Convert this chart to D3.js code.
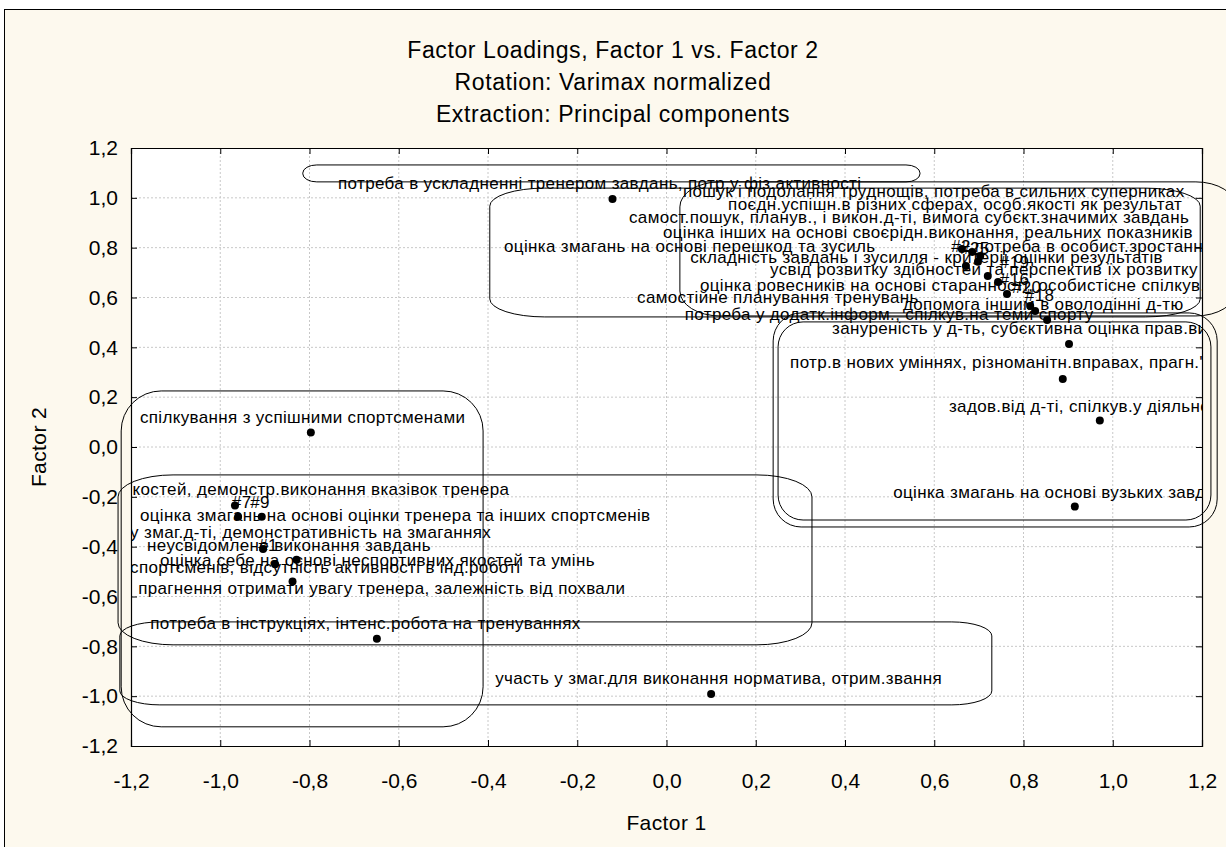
<!DOCTYPE html>
<html>
<head>
<meta charset="utf-8">
<script src="https://cdnjs.cloudflare.com/ajax/libs/d3/7.8.5/d3.min.js"></script>
<style>
  body { margin: 0; background: #fff; }
  text { font-family: Arial, "Liberation Sans", sans-serif; fill: #000; }
</style>
</head>
<body>
<div id="chart"></div>
<script>
// factor loadings (Factor 1, Factor 2) of every variable
const factor1 = [
  -0.121, -0.797, -0.649, 0.100,
  0.902, 0.888, 0.971, 0.915,
  0.662, 0.685, 0.703, 0.671, 0.698, 0.720, 0.743, 0.763, 0.815, 0.826, 0.853,
  -0.967, -0.960, -0.907, -0.904, -0.877, -0.829, -0.838
];
const factor2 = [
  0.995, 0.058, -0.770, -0.991,
  0.413, 0.273, 0.106, -0.239,
  0.795, 0.783, 0.767, 0.726, 0.743, 0.686, 0.662, 0.614, 0.566, 0.546, 0.510,
  -0.235, -0.280, -0.280, -0.409, -0.471, -0.453, -0.540
];

// point labels as placed on the plot (left start, in factor units)
const labelText = [
  "потреба в ускладненні тренером завдань, потр.у фіз.активності",
  "спілкування з успішними спортсменами",
  "участь у змаг.для виконання норматива, отрим.звання",
  "потреба в інструкціях, інтенс.робота на тренуваннях",
  "пошук і подолання труднощів, потреба в сильних суперниках",
  "поєдн.успішн.в різних сферах, особ.якості як результат",
  "самост.пошук, планув., і викон.д-ті, вимога субєкт.значимих завдань",
  "оцінка інших на основі своєрідн.виконання, реальних показників",
  "оцінка змагань на основі перешкод та зусиль",
  "потреба в особист.зростанні",
  "складність завдань і зусилля - критерії оцінки результатів",
  "усвід розвитку здібностей та перспектив їх розвитку",
  "оцінка ровесників на основі старанності, особистісне спілкув.:",
  "самостійне планування тренувань",
  "допомога іншим в оволодінні д-тю",
  "потреба у додатк.інформ., спілкув.на теми спорту",
  "занурeність у д-ть, субєктивна оцінка прав.виконання",
  "потр.в нових уміннях, різноманітн.вправах, прагн.\"бути першим\"",
  "задов.від д-ті, спілкув.у діяльності",
  "оцінка змагань на основі вузьких завдань",
  "якостей, демонстр.виконання вказівок тренера",
  "оцінка змагань на основі оцінки тренера та інших спортсменів",
  "у змаг.д-ті, демонстративність на змаганнях",
  "неусвідомлене виконання завдань",
  "оцінка себе на основі неспортивних якостей та умінь",
  "спортсменів, відсутність активності в інд.роботі",
  "прагнення отримати увагу тренера, залежність від похвали",
  "#2", "#25", "#19", "#16", "#20", "#18", "#7", "#9", "#1"
];
const labelF1 = [
  -0.736, -1.180, -0.384, -1.157,
  0.037, 0.138, -0.084, -0.008, -0.364, 0.691, 0.053, 0.232, 0.075, -0.066, 0.530, 0.041,
  0.371, 0.277, 0.633, 0.508,
  -1.218, -1.180, -1.202, -1.164, -1.135, -1.202, -1.184,
  0.638, 0.658, 0.747, 0.747, 0.774, 0.803, -0.974, -0.933, -0.915
];
const labelF2 = [
  1.060, 0.121, -0.927, -0.706,
  1.027, 0.975, 0.923, 0.863, 0.807, 0.807, 0.763, 0.714, 0.650, 0.602, 0.574, 0.534,
  0.478, 0.341, 0.165, -0.180,
  -0.168, -0.273, -0.341, -0.393, -0.453, -0.481, -0.566,
  0.807, 0.799, 0.743, 0.674, 0.642, 0.610, -0.221, -0.221, -0.393
];

// hand drawn group outlines: [f1 from, f1 to, f2 top, f2 bottom, rx, ry]
const outlines = [
  [-0.815, 0.568, 1.132, 1.064, 14, 8],
  [-0.396, 1.196, 1.039, 0.522, 55, 18],
  [0.030, 1.276, 1.064, 0.526, 40, 25],
  [0.239, 1.234, 0.538, -0.321, 28, 28],
  [0.250, 1.220, 0.502, -0.293, 25, 25],
  [-1.222, -0.411, 0.225, -1.123, 40, 40],
  [-1.229, 0.326, -0.112, -0.794, 55, 22],
  [-1.225, 0.729, -0.702, -1.035, 40, 14]
];

const ticks = [-1.2, -1.0, -0.8, -0.6, -0.4, -0.2, 0.0, 0.2, 0.4, 0.6, 0.8, 1.0, 1.2];

const width = 1226, height = 847;
const margin = {top: 148, right: 24, bottom: 101, left: 131};
const fmt = v => d3.format(".1f")(Math.round(v * 10) / 10).replace(".", ",").replace("−", "-");

const svg = d3.select("#chart").append("svg")
  .attr("width", width)
  .attr("height", height);

// background + frame
svg.append("rect")
  .attr("x", 4.5).attr("y", 9.5)
  .attr("width", width + 10).attr("height", height + 10)
  .attr("fill", "#fdf9ee")
  .attr("stroke", "#000");

const x = d3.scaleLinear().domain([-1.2, 1.2]).range([margin.left, width - margin.right]);
const y = d3.scaleLinear().domain([-1.2, 1.2]).range([height - margin.bottom, margin.top]);

svg.append("rect")
  .attr("x", x(-1.2)).attr("y", y(1.2))
  .attr("width", x(1.2) - x(-1.2)).attr("height", y(-1.2) - y(1.2))
  .attr("fill", "#fff");

// titles
const titles = ["Factor Loadings, Factor 1 vs. Factor 2", "Rotation: Varimax normalized", "Extraction: Principal components"];
svg.selectAll(".title").data(titles).join("text")
  .attr("class", "title")
  .attr("x", width / 2)
  .attr("y", (d, i) => 58 + i * 32)
  .attr("text-anchor", "middle")
  .attr("font-size", "23px")
  .attr("letter-spacing", "0.6px")
  .text(d => d);

// grid
const grid = svg.append("g").attr("stroke", "#c8c8c8").attr("stroke-dasharray", "2,2");
grid.selectAll(".gx").data(ticks.slice(1, -1)).join("line")
  .attr("x1", d => x(d)).attr("x2", d => x(d))
  .attr("y1", y(1.2)).attr("y2", y(-1.2));
grid.selectAll(".gy").data(ticks.slice(1, -1)).join("line")
  .attr("y1", d => y(d)).attr("y2", d => y(d))
  .attr("x1", x(-1.2)).attr("x2", x(1.2));

// axes, ticks pointing inward on all four sides
const xAxis = svg.append("g")
  .attr("transform", `translate(0,${y(-1.2)})`)
  .call(d3.axisBottom(x).tickValues(ticks).tickSize(-6).tickPadding(27).tickFormat(fmt));
const yAxis = svg.append("g")
  .attr("transform", `translate(${x(-1.2)},0)`)
  .call(d3.axisLeft(y).tickValues(ticks).tickSize(-6).tickPadding(13).tickFormat(fmt));
svg.append("g")
  .attr("transform", `translate(0,${y(1.2)})`)
  .call(d3.axisTop(x).tickValues(ticks).tickSize(-6).tickFormat(""));
svg.append("g")
  .attr("transform", `translate(${x(1.2)},0)`)
  .call(d3.axisRight(y).tickValues(ticks).tickSize(-6).tickFormat(""));

svg.selectAll(".domain").attr("stroke", "#000").attr("stroke-width", 1.2);
svg.selectAll(".tick line").attr("stroke", "#000");
[xAxis, yAxis].forEach(a => a.selectAll("text")
  .attr("font-size", "21px")
  .attr("font-family", "Arial, 'Liberation Sans', sans-serif")
  .attr("fill", "#000"));

svg.append("text")
  .attr("x", (x(-1.2) + x(1.2)) / 2)
  .attr("y", 830)
  .attr("text-anchor", "middle")
  .attr("font-size", "21px")
  .attr("letter-spacing", "0.4px")
  .text("Factor 1");

svg.append("text")
  .attr("transform", `translate(46,${(y(-1.2) + y(1.2)) / 2}) rotate(-90)`)
  .attr("text-anchor", "middle")
  .attr("font-size", "21px")
  .attr("letter-spacing", "0.4px")
  .text("Factor 2");

// labels clipped to plot area
svg.append("clipPath").attr("id", "plotClip")
  .append("rect")
  .attr("x", x(-1.2)).attr("y", y(1.2))
  .attr("width", x(1.2) - x(-1.2)).attr("height", y(-1.2) - y(1.2));

svg.append("g")
  .attr("clip-path", "url(#plotClip)")
  .selectAll("text")
  .data(labelText)
  .join("text")
  .attr("x", (d, i) => x(labelF1[i]))
  .attr("y", (d, i) => y(labelF2[i]))
  .attr("dy", "0.36em")
  .attr("font-size", "17px")
  .attr("letter-spacing", "0.35px")
  .text(d => d);

// points
svg.append("g")
  .selectAll("circle")
  .data(factor1)
  .join("circle")
  .attr("cx", d => x(d))
  .attr("cy", (d, i) => y(factor2[i]))
  .attr("r", 4)
  .attr("fill", "#000");

// group outlines
const roundRect = (x0, x1, y0, y1, rx, ry) =>
  `M${x0 + rx},${y0} H${x1 - rx} A${rx},${ry} 0 0 1 ${x1},${y0 + ry} V${y1 - ry} ` +
  `A${rx},${ry} 0 0 1 ${x1 - rx},${y1} H${x0 + rx} A${rx},${ry} 0 0 1 ${x0},${y1 - ry} ` +
  `V${y0 + ry} A${rx},${ry} 0 0 1 ${x0 + rx},${y0} Z`;

svg.append("g")
  .selectAll("path")
  .data(outlines)
  .join("path")
  .attr("d", d => roundRect(x(d[0]), x(d[1]), y(d[2]), y(d[3]), d[4], d[5]))
  .attr("fill", "none")
  .attr("stroke", "#000")
  .attr("stroke-width", 1);
</script>
</body>
</html>
